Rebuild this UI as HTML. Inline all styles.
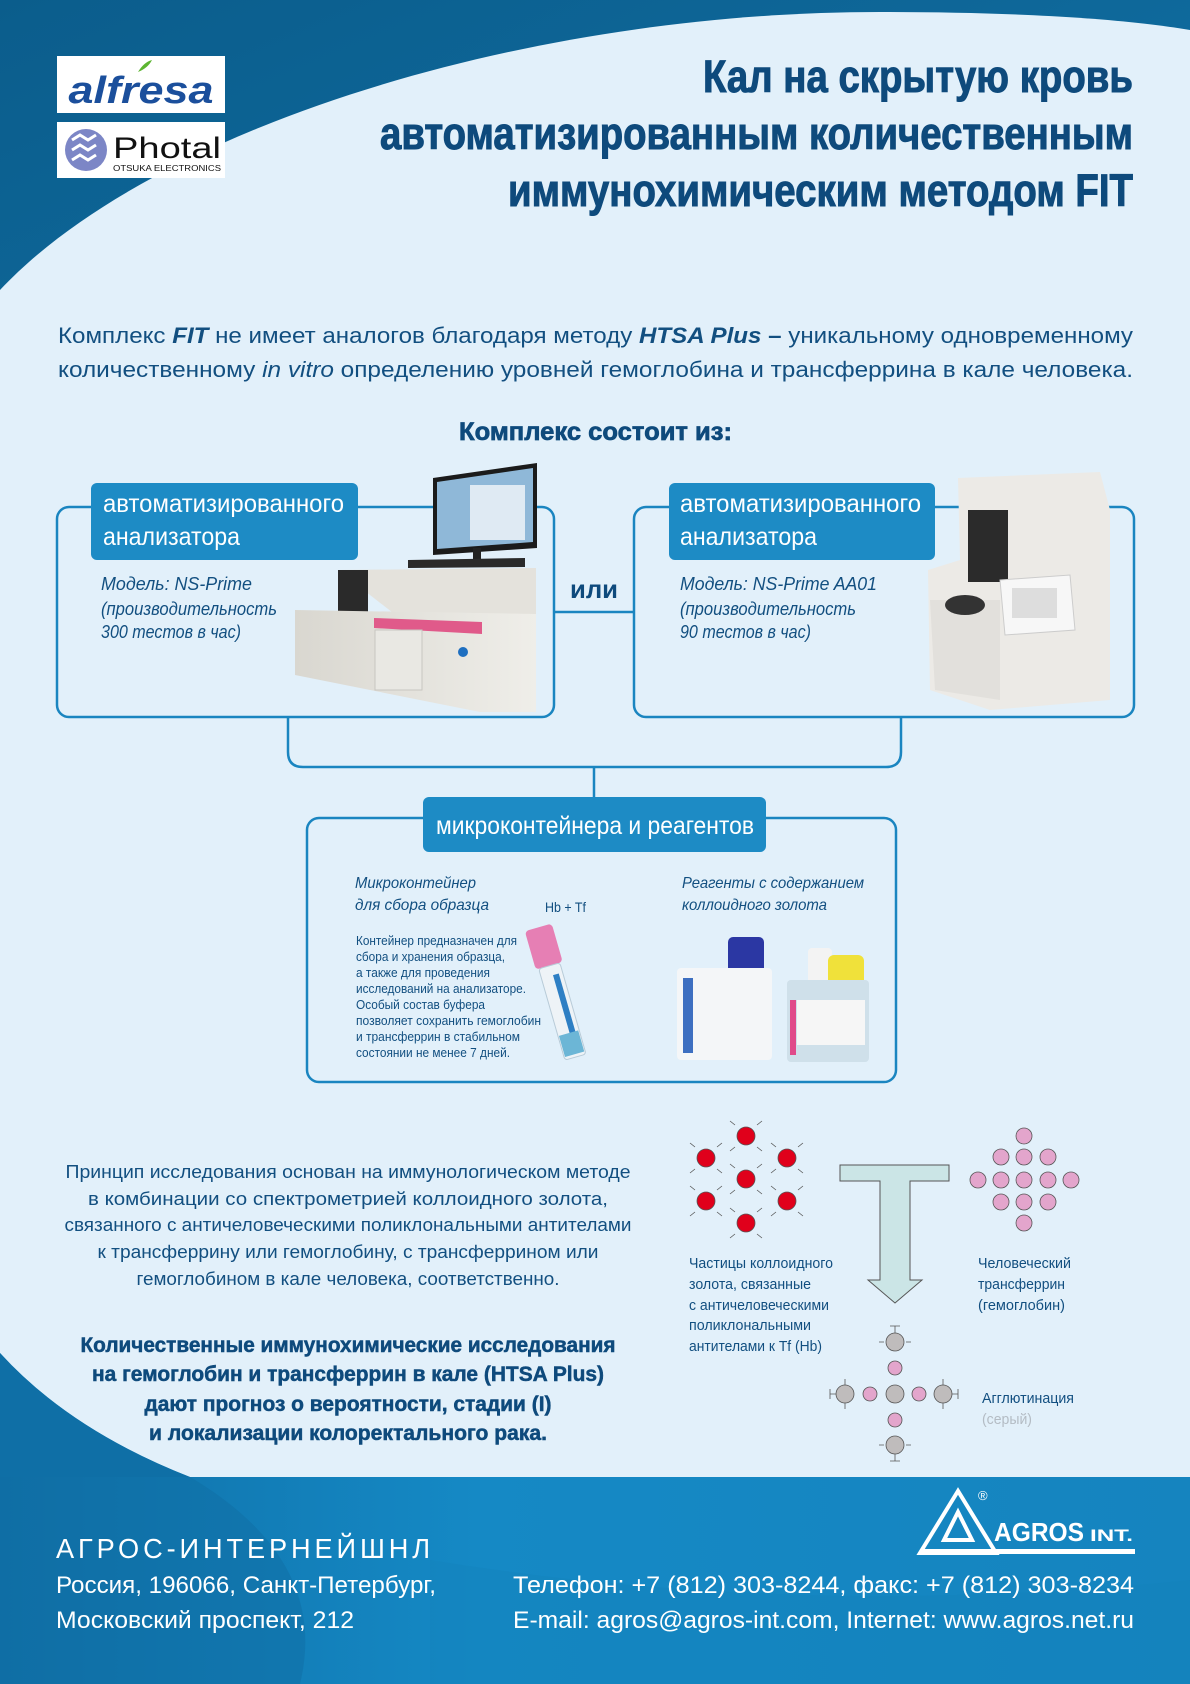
<!DOCTYPE html>
<html><head><meta charset="utf-8"><style>
html,body{margin:0;padding:0;background:#e2f0fa;}
svg{display:block;}
text{font-family:"Liberation Sans Narrow","Liberation Sans",sans-serif;}
</style></head><body>
<svg width="1190" height="1684" viewBox="0 0 1190 1684" xmlns="http://www.w3.org/2000/svg">
<defs>
<linearGradient id="topg" x1="0" y1="0" x2="0.3" y2="1"><stop offset="0" stop-color="#0b5d8c"/><stop offset="1" stop-color="#1787c2"/></linearGradient>
<linearGradient id="footg" x1="0" y1="0" x2="1" y2="0"><stop offset="0" stop-color="#0f6fa6"/><stop offset="0.4" stop-color="#1589c5"/><stop offset="1" stop-color="#1584bf"/></linearGradient>
<linearGradient id="bag" x1="0" y1="0" x2="1" y2="0"><stop offset="0" stop-color="#d9d7d0"/><stop offset="1" stop-color="#efeee9"/></linearGradient>
</defs>
<rect width="1190" height="1684" fill="url(#topg)"/>
<path d="M0,290 C150,130 520,12 880,12 C1010,12 1120,18 1190,30 L1190,1477 L190,1477 Q70,1430 0,1353 Z" fill="#e2f0fa"/>
<rect x="0" y="1477" width="1190" height="207" fill="url(#footg)"/>
<path d="M0,1353 Q70,1430 190,1477 L0,1477 Z" fill="#0f6fa6"/>
<path d="M0,1477 L190,1477 Q330,1560 300,1684 L0,1684 Z" fill="#0f6ea4" opacity="0.5"/>
<path d="M430,1560 Q800,1620 1190,1580 L1190,1684 L430,1684 Z" fill="#1380ba" opacity="0.35"/>

<rect x="57" y="56" width="168" height="57" fill="#fff"/>
<text x="141" y="103" text-anchor="middle" font-size="38" font-style="italic" font-weight="bold" fill="#1b4f9c" textLength="145" lengthAdjust="spacingAndGlyphs">alfresa</text>
<path d="M138,72 q6,-10 14,-12 q-4,8 -14,12z" fill="#5cb531"/>
<rect x="57" y="122" width="168" height="56" fill="#fff"/>
<circle cx="86" cy="150" r="21" fill="#7c86c6"/>
<path d="M72,140 l8,-5 8,5 8,-5 M72,150 l8,-5 8,5 8,-5 M72,160 l8,-5 8,5 8,-5" stroke="#fff" stroke-width="3" fill="none"/>
<text x="113" y="158" font-size="30" fill="#111" font-family="Liberation Sans" textLength="108" lengthAdjust="spacingAndGlyphs">Photal</text>
<text x="113" y="171" font-size="8" fill="#111" font-family="Liberation Sans" textLength="108" lengthAdjust="spacingAndGlyphs">OTSUKA ELECTRONICS</text>

<g font-weight="bold" fill="#0e4a7c" stroke="#0e4a7c" stroke-width="1" font-size="45" text-anchor="end">
<text x="1133" y="92" textLength="430" lengthAdjust="spacingAndGlyphs">Кал на скрытую кровь</text>
<text x="1133" y="149" textLength="753" lengthAdjust="spacingAndGlyphs">автоматизированным количественным</text>
<text x="1133" y="206" textLength="625" lengthAdjust="spacingAndGlyphs">иммунохимическим методом FIT</text>
</g>

<g fill="#124f80" font-size="22">
<text x="58" y="343" textLength="1075" lengthAdjust="spacingAndGlyphs">Комплекс <tspan font-weight="bold" font-style="italic">FIT</tspan> не имеет аналогов благодаря методу <tspan font-weight="bold" font-style="italic">HTSA Plus</tspan> <tspan font-weight="bold">–</tspan> уникальному одновременному</text>
<text x="58" y="377" textLength="1075" lengthAdjust="spacingAndGlyphs">количественному <tspan font-style="italic">in vitro</tspan> определению уровней гемоглобина и трансферрина в кале человека.</text>
</g>
<text x="459" y="440" font-size="25" font-weight="bold" fill="#0e4a7c" stroke="#0e4a7c" stroke-width="0.7" textLength="273" lengthAdjust="spacingAndGlyphs">Комплекс состоит из:</text>

<g fill="none" stroke="#1a85c0" stroke-width="2.5">
<rect x="57" y="507" width="497" height="210" rx="12"/>
<rect x="634" y="507" width="500" height="210" rx="12"/>
<line x1="554" y1="612" x2="634" y2="612"/>
<path d="M288,717 L288,752 Q288,767 303,767 L886,767 Q901,767 901,752 L901,717"/>
<line x1="594" y1="767" x2="594" y2="818"/>
<rect x="307" y="818" width="589" height="264" rx="12"/>
</g>
<g fill="#1d8bc5">
<rect x="91" y="483" width="267" height="77" rx="6"/>
<rect x="669" y="483" width="266" height="77" rx="6"/>
<rect x="423" y="797" width="343" height="55" rx="6"/>
</g>
<g fill="#fff" font-size="25">
<text x="103" y="512" textLength="241" lengthAdjust="spacingAndGlyphs">автоматизированного</text>
<text x="103" y="545" textLength="137" lengthAdjust="spacingAndGlyphs">анализатора</text>
<text x="680" y="512" textLength="241" lengthAdjust="spacingAndGlyphs">автоматизированного</text>
<text x="680" y="545" textLength="137" lengthAdjust="spacingAndGlyphs">анализатора</text>
<text x="436" y="834" textLength="318" lengthAdjust="spacingAndGlyphs">микроконтейнера и реагентов</text>
</g>
<text x="570" y="598" font-size="26" font-weight="bold" fill="#0e4a7c" textLength="48" lengthAdjust="spacingAndGlyphs">или</text>
<g fill="#124f80" font-size="18" font-style="italic">
<text x="101" y="590" textLength="151" lengthAdjust="spacingAndGlyphs">Модель: NS-Prime</text>
<text x="101" y="615" textLength="176" lengthAdjust="spacingAndGlyphs">(производительность</text>
<text x="101" y="638" textLength="140" lengthAdjust="spacingAndGlyphs">300 тестов в час)</text>
<text x="680" y="590" textLength="197" lengthAdjust="spacingAndGlyphs">Модель: NS-Prime AA01</text>
<text x="680" y="615" textLength="176" lengthAdjust="spacingAndGlyphs">(производительность</text>
<text x="680" y="638" textLength="131" lengthAdjust="spacingAndGlyphs">90 тестов в час)</text>
</g>

<polygon points="433,478 537,463 537,548 433,555" fill="#1b1b1b"/>
<polygon points="437,482 533,468 533,542 437,549" fill="#8fb8d8"/>
<rect x="470" y="485" width="55" height="55" fill="#dfeaf3"/>
<rect x="473" y="548" width="8" height="14" fill="#222"/>
<polygon points="408,560 525,558 525,567 408,568" fill="#2a2a2a"/>
<polygon points="338,570 536,568 536,712 520,712" fill="#e4e2dc"/>
<rect x="338" y="570" width="30" height="45" fill="#2a2a2a"/>
<polygon points="295,610 536,614 536,712 480,712 295,675" fill="url(#bag)"/>
<polygon points="374,618 482,622 482,634 374,628" fill="#e05a8a"/>
<rect x="375" y="630" width="47" height="60" fill="#e9e8e3" stroke="#c8c6c0"/>
<circle cx="463" cy="652" r="5" fill="#1e6fc0"/>
<polygon points="958,478 1100,472 1110,510 1110,700 990,710 930,690 928,570 960,560" fill="#eceae6"/>
<rect x="968" y="510" width="40" height="72" fill="#2b2b2b"/>
<polygon points="1000,580 1070,575 1075,630 1005,635" fill="#f7f7f7" stroke="#ccc"/>
<rect x="1012" y="588" width="45" height="30" fill="#ddd"/>
<polygon points="930,600 1000,600 1000,700 935,690" fill="#e2e0dc"/>
<ellipse cx="965" cy="605" rx="20" ry="10" fill="#333"/>

<g fill="#124f80" font-size="16" font-style="italic">
<text x="355" y="888" textLength="121" lengthAdjust="spacingAndGlyphs">Микроконтейнер</text>
<text x="355" y="910" textLength="134" lengthAdjust="spacingAndGlyphs">для сбора образца</text>
<text x="682" y="888" textLength="182" lengthAdjust="spacingAndGlyphs">Реагенты с содержанием</text>
<text x="682" y="910" textLength="145" lengthAdjust="spacingAndGlyphs">коллоидного золота</text>
</g>
<text x="545" y="912" font-size="14" fill="#124f80" textLength="41" lengthAdjust="spacingAndGlyphs">Hb + Tf</text>
<g fill="#124f80" font-size="13">
<text x="356" y="945" textLength="161" lengthAdjust="spacingAndGlyphs">Контейнер предназначен для</text>
<text x="356" y="961" textLength="149" lengthAdjust="spacingAndGlyphs">сбора и хранения образца,</text>
<text x="356" y="977" textLength="134" lengthAdjust="spacingAndGlyphs">а также для проведения</text>
<text x="356" y="993" textLength="170" lengthAdjust="spacingAndGlyphs">исследований на анализаторе.</text>
<text x="356" y="1009" textLength="129" lengthAdjust="spacingAndGlyphs">Особый состав буфера</text>
<text x="356" y="1025" textLength="185" lengthAdjust="spacingAndGlyphs">позволяет сохранить гемоглобин</text>
<text x="356" y="1041" textLength="164" lengthAdjust="spacingAndGlyphs">и трансферрин в стабильном</text>
<text x="356" y="1057" textLength="154" lengthAdjust="spacingAndGlyphs">состоянии не менее 7 дней.</text>
</g>
<g transform="rotate(-16 557 1000)">
<rect x="545" y="925" width="28" height="40" rx="4" fill="#e67fb4"/>
<rect x="548" y="965" width="22" height="95" rx="3" fill="#eef3f7" stroke="#b8cbd8"/>
<rect x="560" y="975" width="6" height="70" fill="#2e7fc4"/>
<rect x="549" y="1035" width="20" height="22" fill="#6cb6d6"/>
</g>
<rect x="700" y="968" width="28" height="30" rx="4" fill="#f4f4f4"/>
<rect x="728" y="937" width="36" height="36" rx="5" fill="#2b37a3"/>
<rect x="677" y="968" width="95" height="92" rx="4" fill="#f4f6f8"/>
<rect x="683" y="978" width="10" height="75" fill="#3d6fc1"/>
<rect x="808" y="948" width="24" height="35" rx="4" fill="#f3f3f3"/>
<rect x="828" y="955" width="36" height="37" rx="6" fill="#f0e13a"/>
<rect x="787" y="980" width="82" height="82" rx="4" fill="#cfe0ea"/>
<rect x="790" y="1000" width="6" height="55" fill="#e04a8a"/>
<rect x="797" y="1000" width="68" height="45" fill="#f6f6f6"/>

<g fill="#124f80" font-size="18" text-anchor="middle">
<text x="348" y="1178" textLength="565" lengthAdjust="spacingAndGlyphs">Принцип исследования основан на иммунологическом методе</text>
<text x="348" y="1205" textLength="520" lengthAdjust="spacingAndGlyphs">в комбинации со спектрометрией коллоидного золота,</text>
<text x="348" y="1231" textLength="567" lengthAdjust="spacingAndGlyphs">связанного с античеловеческими поликлональными антителами</text>
<text x="348" y="1258" textLength="501" lengthAdjust="spacingAndGlyphs">к трансферрину или гемоглобину, с трансферрином или</text>
<text x="348" y="1285" textLength="423" lengthAdjust="spacingAndGlyphs">гемоглобином в кале человека, соответственно.</text>
</g>
<g fill="#0e4a7c" stroke="#0e4a7c" stroke-width="0.5" font-size="21" font-weight="bold" text-anchor="middle">
<text x="348" y="1352" textLength="535" lengthAdjust="spacingAndGlyphs">Количественные иммунохимические исследования</text>
<text x="348" y="1381" textLength="512" lengthAdjust="spacingAndGlyphs">на гемоглобин и трансферрин в кале (HTSA Plus)</text>
<text x="348" y="1411" textLength="407" lengthAdjust="spacingAndGlyphs">дают прогноз о вероятности, стадии (I)</text>
<text x="348" y="1440" textLength="398" lengthAdjust="spacingAndGlyphs">и локализации колоректального рака.</text>
</g>

<g fill="#e0001b" stroke="#555" stroke-width="0.8">
<circle cx="706" cy="1158" r="9"/><circle cx="746" cy="1136" r="9"/><circle cx="787" cy="1158" r="9"/><circle cx="746" cy="1179" r="9"/><circle cx="706" cy="1201" r="9"/><circle cx="787" cy="1201" r="9"/><circle cx="746" cy="1223" r="9"/>
</g>
<g stroke="#555" stroke-width="0.8" fill="none">
<path d="M695,1147 l-5,-4 M717,1147 l5,-4 M695,1169 l-5,4 M717,1169 l5,4 M735,1125 l-5,-4 M757,1125 l5,-4 M735,1147 l-5,4 M757,1147 l5,4 M776,1147 l-5,-4 M798,1147 l5,-4 M776,1169 l-5,4 M798,1169 l5,4 M735,1168 l-5,-4 M757,1168 l5,-4 M735,1190 l-5,4 M757,1190 l5,4 M695,1190 l-5,-4 M717,1190 l5,-4 M695,1212 l-5,4 M717,1212 l5,4 M776,1190 l-5,-4 M798,1190 l5,-4 M776,1212 l-5,4 M798,1212 l5,4 M735,1212 l-5,-4 M757,1212 l5,-4 M735,1234 l-5,4 M757,1234 l5,4"/>
</g>
<g fill="#e3a5cc" stroke="#555" stroke-width="0.8">
<circle cx="1024" cy="1136" r="8"/>
<circle cx="1001" cy="1157" r="8"/><circle cx="1024" cy="1157" r="8"/><circle cx="1048" cy="1157" r="8"/>
<circle cx="978" cy="1180" r="8"/><circle cx="1001" cy="1180" r="8"/><circle cx="1024" cy="1180" r="8"/><circle cx="1048" cy="1180" r="8"/><circle cx="1071" cy="1180" r="8"/>
<circle cx="1001" cy="1202" r="8"/><circle cx="1024" cy="1202" r="8"/><circle cx="1048" cy="1202" r="8"/>
<circle cx="1024" cy="1223" r="8"/>
</g>
<polygon points="840,1165 949,1165 949,1181 910,1181 910,1280 922,1280 895,1303 868,1280 880,1280 880,1181 840,1181" fill="#cbe5e6" stroke="#555" stroke-width="1"/>
<g fill="#bfbcbc" stroke="#555" stroke-width="0.8">
<circle cx="895" cy="1342" r="9"/><circle cx="845" cy="1394" r="9"/><circle cx="895" cy="1394" r="9"/><circle cx="943" cy="1394" r="9"/><circle cx="895" cy="1445" r="9"/>
</g>
<g fill="#e3a5cc" stroke="#555" stroke-width="0.8">
<circle cx="895" cy="1368" r="7"/><circle cx="870" cy="1394" r="7"/><circle cx="919" cy="1394" r="7"/><circle cx="895" cy="1420" r="7"/>
</g>
<g stroke="#555" stroke-width="0.8" fill="none">
<path d="M895,1333 v-7 M890,1326 h10 M884,1342 h-5 M906,1342 h5 M895,1454 v7 M890,1461 h10 M884,1445 h-5 M906,1445 h5 M836,1394 h-6 M830,1389 v10 M952,1394 h6 M958,1389 v10 M845,1385 v-6 M845,1403 v6 M943,1385 v-6 M943,1403 v6"/>
</g>
<g fill="#124f80" font-size="15">
<text x="689" y="1268" textLength="144" lengthAdjust="spacingAndGlyphs">Частицы коллоидного</text>
<text x="689" y="1289" textLength="122" lengthAdjust="spacingAndGlyphs">золота, связанные</text>
<text x="689" y="1310" textLength="140" lengthAdjust="spacingAndGlyphs">с античеловеческими</text>
<text x="689" y="1330" textLength="122" lengthAdjust="spacingAndGlyphs">поликлональными</text>
<text x="689" y="1351" textLength="133" lengthAdjust="spacingAndGlyphs">антителами к Tf (Hb)</text>
<text x="978" y="1268" textLength="93" lengthAdjust="spacingAndGlyphs">Человеческий</text>
<text x="978" y="1289" textLength="87" lengthAdjust="spacingAndGlyphs">трансферрин</text>
<text x="978" y="1310" textLength="87" lengthAdjust="spacingAndGlyphs">(гемоглобин)</text>
<text x="982" y="1403" textLength="92" lengthAdjust="spacingAndGlyphs">Агглютинация</text>
<text x="982" y="1424" fill="#b4bcc4" textLength="50" lengthAdjust="spacingAndGlyphs">(серый)</text>
</g>

<g fill="#fff">
<text x="56" y="1558" font-size="28" textLength="378" lengthAdjust="spacingAndGlyphs" letter-spacing="4">АГРОС-ИНТЕРНЕЙШНЛ</text>
<text x="56" y="1593" font-size="24" textLength="380" lengthAdjust="spacingAndGlyphs">Россия, 196066, Санкт-Петербург,</text>
<text x="56" y="1628" font-size="24" textLength="298" lengthAdjust="spacingAndGlyphs">Московский проспект, 212</text>
<text x="1134" y="1593" font-size="24" text-anchor="end" textLength="621" lengthAdjust="spacingAndGlyphs">Телефон: +7 (812) 303-8244, факс: +7 (812) 303-8234</text>
<text x="1134" y="1628" font-size="24" text-anchor="end" textLength="621" lengthAdjust="spacingAndGlyphs">E-mail: agros@agros-int.com, Internet: www.agros.net.ru</text>
</g>
<g fill="none" stroke="#fff" stroke-width="4">
<polygon points="958,1491 920,1553 996,1553"/>
<polygon points="958,1512 944,1540 972,1540"/>
</g>
<rect x="920" y="1549" width="215" height="5" fill="#fff"/>
<text x="994" y="1541" font-size="26" font-weight="bold" fill="#fff" textLength="90" lengthAdjust="spacingAndGlyphs" font-family="Liberation Sans">AGROS</text>
<text x="1090" y="1541" font-size="17" font-weight="bold" fill="#fff" textLength="43" lengthAdjust="spacingAndGlyphs" font-family="Liberation Sans">INT.</text>
<text x="978" y="1500" font-size="13" fill="#fff" font-family="Liberation Sans">®</text>
</svg>
</body></html>
